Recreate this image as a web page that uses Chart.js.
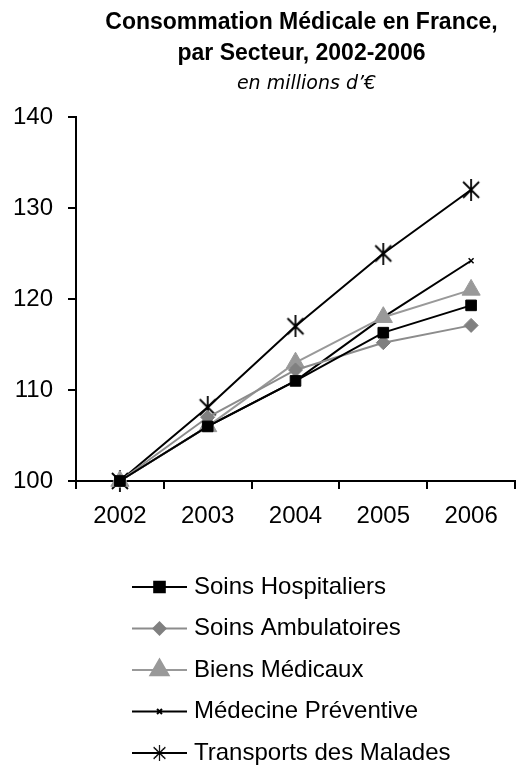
<!DOCTYPE html>
<html>
<head>
<meta charset="utf-8">
<script src="https://cdn.jsdelivr.net/npm/chart.js@4"></script>
<style>
  html, body { margin: 0; padding: 0; background: #fff; }
  #wrap { width: 527px; height: 767px; }
</style>
</head>
<body>
<div id="wrap"><canvas id="chart" width="527" height="767"></canvas></div>
<script>
// data (index 2002 = 100)
const years = ['2002', '2003', '2004', '2005', '2006'];
const soinsHospitaliers = [100, 106, 111, 116.3, 119.3];
const soinsAmbulatoires = [100, 107, 112.2, 115.2, 117.1];
const biensMedicaux = [100, 106, 113, 118, 121];
const medecinePreventive = [100, 106, 111, 118, 124.2];
const transportsMalades = [100, 108.1, 117, 125, 132];
const yTicks = [100, 110, 120, 130, 140];

const titleLines = ['Consommation Médicale en France,', 'par Secteur, 2002-2006'];
const subtitle = 'en millions d’€';

Chart.defaults.font.family = '"Liberation Sans", Arial, sans-serif';
Chart.defaults.color = '#000';

// Excel style asterisk marker: an X with a vertical bar
function makeAsterisk(size) {
    const c = document.createElement('canvas');
    c.width = size;
    c.height = size;
    const g = c.getContext('2d');
    const m = 2, h = size / 2;
    g.strokeStyle = '#000';
    g.lineWidth = 1.8;
    g.beginPath();
    g.moveTo(m + 1, m + 1); g.lineTo(size - m - 1, size - m - 1);
    g.moveTo(size - m - 1, m + 1); g.lineTo(m + 1, size - m - 1);
    g.moveTo(h, 0); g.lineTo(h, size);
    g.stroke();
    return c;
}
const asterisk = makeAsterisk(22);

function series(label, data, color, fill, style, radius, bw) {
    return {
        label: label,
        data: data,
        borderColor: color,
        borderWidth: 2,
        pointStyle: style,
        pointRadius: radius,
        pointHoverRadius: radius,
        pointBackgroundColor: fill,
        pointBorderColor: fill,
        pointBorderWidth: bw,
        tension: 0,
        clip: false
    };
}

const datasets = [
    series('Soins Hospitaliers', soinsHospitaliers, '#000000', '#000000', 'rect', 7.5, 1),
    series('Soins Ambulatoires', soinsAmbulatoires, '#8c8c8c', '#808080', 'rectRot', 7, 1),
    series('Biens Médicaux', biensMedicaux, '#999999', '#999999', 'triangle', 10.5, 1),
    series('Médecine Préventive', medecinePreventive, '#000000', '#000000', 'crossRot', 3.5, 1.5),
    series('Transports des Malades', transportsMalades, '#000000', '#000000', asterisk, 11, 1)
];

// title block and the stacked legend below the axis
const decorations = {
    id: 'decorations',
    afterDraw(chart) {
        const ctx = chart.ctx;
        const area = chart.chartArea;
        const cx = (area.left + area.right) / 2 + 6;
        ctx.save();
        ctx.fillStyle = '#000';
        ctx.textAlign = 'center';
        ctx.textBaseline = 'alphabetic';
        ctx.font = 'bold 23px "Liberation Sans", Arial, sans-serif';
        ctx.fillText(titleLines[0], cx, 29);
        ctx.fillText(titleLines[1], cx, 60);
        ctx.font = 'italic 19px "DejaVu Sans", Verdana, sans-serif';
        ctx.fillText(subtitle, cx + 5, 89);

        ctx.textAlign = 'left';
        ctx.textBaseline = 'middle';
        ctx.font = '24px "Liberation Sans", Arial, sans-serif';
        chart.data.datasets.forEach((ds, i) => {
            const y = 587 + i * 41.5;
            ctx.strokeStyle = ds.borderColor;
            ctx.lineWidth = 2;
            ctx.beginPath();
            ctx.moveTo(132, y);
            ctx.lineTo(187, y);
            ctx.stroke();
            if (ds.pointStyle instanceof HTMLCanvasElement) {
                ctx.drawImage(ds.pointStyle, 159.5 - 8, y - 8, 16, 16);
            } else {
                ctx.fillStyle = ds.pointBackgroundColor;
                ctx.strokeStyle = ds.pointBorderColor;
                Chart.helpers.drawPoint(ctx, {
                    pointStyle: ds.pointStyle,
                    radius: ds.pointStyle === 'rectRot' ? 6 : ds.pointRadius,
                    borderWidth: ds.pointBorderWidth,
                    rotation: 0
                }, 159.5, y);
            }
            ctx.fillStyle = '#000';
            ctx.fillText(ds.label, 194, y);
        });
        ctx.restore();
    }
};

new Chart(document.getElementById('chart'), {
    type: 'line',
    data: { labels: years, datasets: datasets },
    options: {
        responsive: false,
        animation: false,
        layout: { padding: { top: 117, left: 0, right: 9, bottom: 226 } },
        plugins: {
            legend: { display: false },
            title: { display: false },
            tooltip: { enabled: false }
        },
        scales: {
            x: {
                offset: true,
                afterFit(scale) { scale.height = 60; },
                border: { display: true, color: '#000', width: 2 },
                grid: {
                    offset: true,
                    drawOnChartArea: false,
                    drawTicks: true,
                    tickLength: 8,
                    color: '#000',
                    lineWidth: 2
                },
                ticks: { font: { size: 24 }, padding: 13, maxRotation: 0 }
            },
            y: {
                min: yTicks[0],
                max: yTicks[yTicks.length - 1],
                afterFit(scale) { scale.width = 76; },
                afterBuildTicks(scale) { scale.ticks = yTicks.map(v => ({ value: v })); },
                border: { display: true, color: '#000', width: 2 },
                grid: {
                    drawOnChartArea: false,
                    drawTicks: true,
                    tickLength: 8,
                    color: '#000',
                    lineWidth: 2
                },
                ticks: { font: { size: 24 }, padding: 15 }
            }
        }
    },
    plugins: [decorations]
});
</script>
</body>
</html>
